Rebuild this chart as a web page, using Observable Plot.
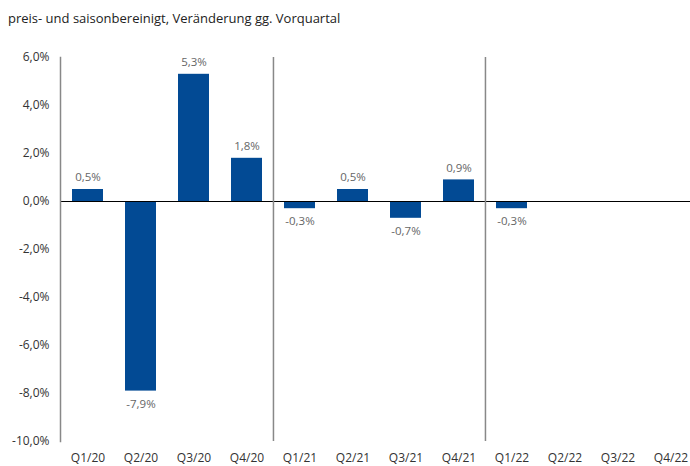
<!DOCTYPE html>
<html>
<head>
<meta charset="utf-8">
<script src="https://cdn.jsdelivr.net/npm/d3@7"></script>
<script src="https://cdn.jsdelivr.net/npm/@observablehq/plot@0.6"></script>
<style>
  body { margin: 0; background: #fff; font-family: "Open Sans", sans-serif; }
  #title { height: 36px; line-height: 36px; padding-left: 8px; font-size: 13px; color: #222; white-space: nowrap; }
  svg { display: block; }
</style>
</head>
<body>
<div id="title">preis- und saisonbereinigt, Veränderung gg. Vorquartal</div>
<div id="chart"></div>
<script>
const quarters = ["Q1/20","Q2/20","Q3/20","Q4/20","Q1/21","Q2/21","Q3/21","Q4/21","Q1/22","Q2/22","Q3/22","Q4/22"];
const values = [0.5, -7.9, 5.3, 1.8, -0.3, 0.5, -0.7, 0.9, -0.3];
const yTicks = [6, 4, 2, 0, -2, -4, -6, -8, -10];
const separators = ["Q1/21", "Q1/22"];

const data = values.map((v, i) => ({q: quarters[i], v}));
const fmt = v => v.toFixed(1).replace(".", ",") + "%";
const step = (697 - 60) / quarters.length;

const chart = Plot.plot({
  width: 690,
  height: 430,
  marginTop: 21,
  marginBottom: 25,
  marginLeft: 60,
  marginRight: 0,
  style: {fontFamily: "Open Sans, sans-serif", fontSize: "12px", color: "#333", background: "#fff"},
  x: {domain: quarters, range: [60, 697], paddingInner: 0.42, paddingOuter: 0.21, label: null},
  y: {domain: [-10, 6], label: null},
  marks: [
    Plot.axisY({ticks: yTicks, tickFormat: fmt, tickSize: 0, tickPadding: 11, fontSize: 12, fill: "#333"}),
    Plot.axisX({tickSize: 0, tickPadding: 12, fontSize: 12, fill: "#333"}),
    Plot.barY(data, {x: "q", y: "v", fill: "#024a94"}),
    Plot.ruleY([0], {stroke: "#000", strokeWidth: 1}),
    Plot.frame({anchor: "left", stroke: "#888", strokeWidth: 1.5}),
    Plot.ruleX(separators, {x: d => d, dx: -step / 2, stroke: "#888", strokeWidth: 1.5}),
    Plot.text(data.filter(d => d.v >= 0), {x: "q", y: "v", text: d => fmt(d.v), dy: -12, fill: "#666", fontSize: 11.5}),
    Plot.text(data.filter(d => d.v < 0), {x: "q", y: "v", text: d => fmt(d.v), dy: 13, fill: "#666", fontSize: 11.5})
  ]
});
document.getElementById("chart").appendChild(chart);
</script>
</body>
</html>
